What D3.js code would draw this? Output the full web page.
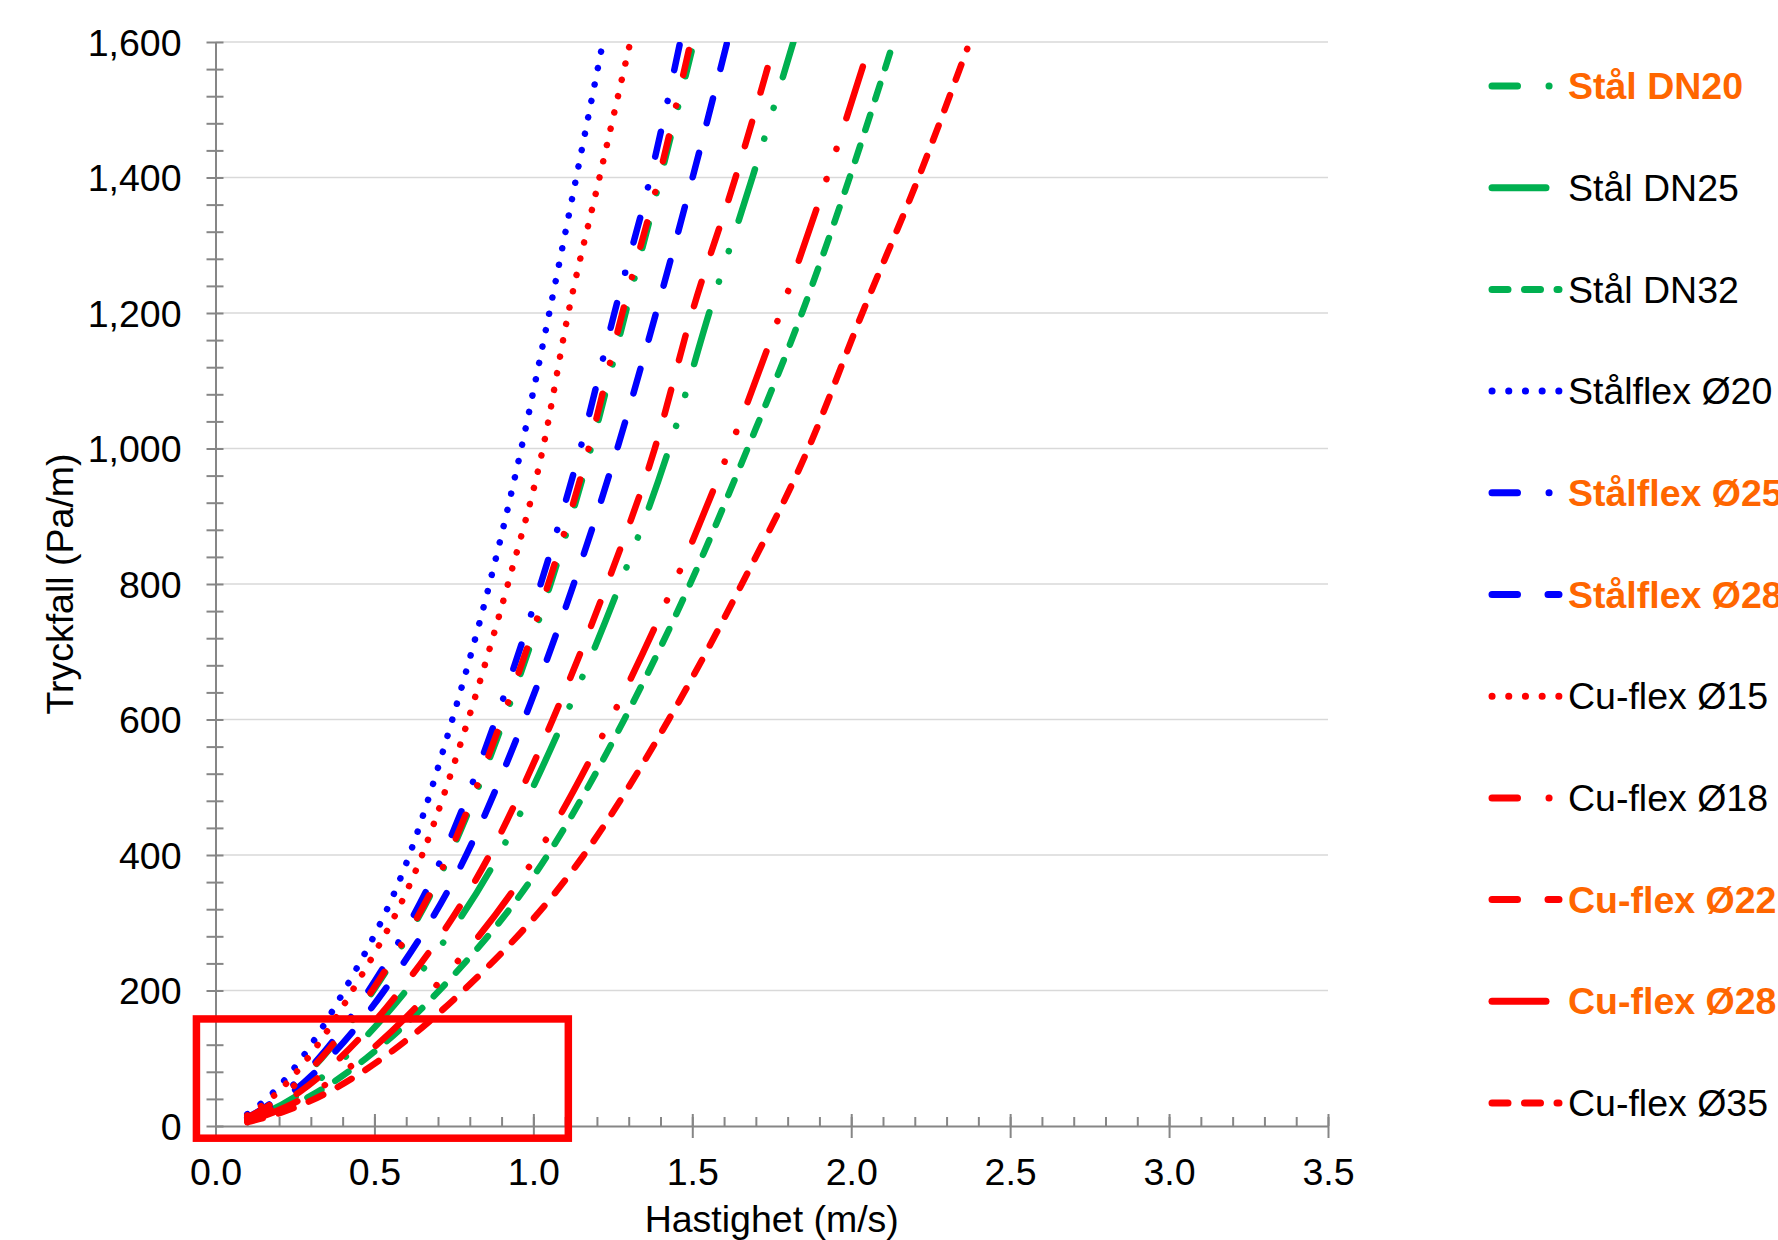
<!DOCTYPE html>
<html>
<head>
<meta charset="utf-8">
<script src="https://cdn.jsdelivr.net/npm/d3@7"></script>
<style>
  body { margin: 0; background: #fff; }
  text { font-family: "Liberation Sans", Arial, sans-serif; }
</style>
</head>
<body>
<svg id="chart" width="1778" height="1240"></svg>
<script>
// [hastighet m/s, tryckfall Pa/m]
var stalDN20     = [[0.10,12],[0.132,20],[0.226,50],[0.334,100],[0.497,200],[0.737,400],[0.908,600],[1.054,800],[1.181,1000],[1.29,1200],[1.40,1400],[1.505,1600]];
var stalDN25     = [[0.10,9],[0.16,20],[0.273,50],[0.404,100],[0.60,200],[0.891,400],[1.096,600],[1.273,800],[1.427,1000],[1.553,1200],[1.689,1400],[1.818,1600]];
var stalDN32     = [[0.10,6.6],[0.188,20],[0.32,50],[0.474,100],[0.704,200],[1.045,400],[1.286,600],[1.493,800],[1.674,1000],[1.845,1200],[1.995,1400],[2.133,1600]];
var stalflexO20  = [[0.10,17.5],[0.183,50],[0.271,100],[0.405,200],[0.61,400],[0.745,600],[0.862,800],[0.962,1000],[1.05,1200],[1.135,1400],[1.219,1600]];
var stalflexO25  = [[0.10,12.8],[0.129,20],[0.219,50],[0.325,100],[0.482,200],[0.716,400],[0.882,600],[1.023,800],[1.148,1000],[1.255,1200],[1.368,1400],[1.462,1600]];
var stalflexO28  = [[0.10,10.8],[0.142,20],[0.242,50],[0.357,100],[0.531,200],[0.789,400],[0.971,600],[1.127,800],[1.264,1000],[1.386,1200],[1.501,1400],[1.61,1600]];
var cuflexO15    = [[0.10,15.7],[0.115,20],[0.196,50],[0.29,100],[0.431,200],[0.65,400],[0.795,600],[0.92,800],[1.03,1000],[1.11,1200],[1.208,1400],[1.305,1600]];
var cuflexO18    = [[0.10,12.3],[0.132,20],[0.224,50],[0.332,100],[0.493,200],[0.733,400],[0.901,600],[1.047,800],[1.174,1000],[1.28,1200],[1.395,1400],[1.495,1600]];
var cuflexO22    = [[0.10,9.3],[0.155,20],[0.264,50],[0.391,100],[0.581,200],[0.862,400],[1.061,600],[1.232,800],[1.382,1000],[1.499,1200],[1.636,1400],[1.76,1600]];
var cuflexO28    = [[0.10,7.1],[0.181,20],[0.309,50],[0.458,100],[0.68,200],[1.01,400],[1.243,600],[1.443,800],[1.618,1000],[1.777,1200],[1.924,1400],[2.061,1600]];
var cuflexO35    = [[0.10,5.6],[0.208,20],[0.355,50],[0.525,100],[0.78,200],[1.159,400],[1.426,600],[1.656,800],[1.865,1000],[2.035,1200],[2.212,1400],[2.365,1590]];

var seriesNames = ["Stål DN20","Stål DN25","Stål DN32","Stålflex Ø20","Stålflex Ø25","Stålflex Ø28",
                   "Cu-flex Ø15","Cu-flex Ø18","Cu-flex Ø22","Cu-flex Ø28","Cu-flex Ø35"];
var seriesData  = [stalDN20, stalDN25, stalDN32, stalflexO20, stalflexO25, stalflexO28,
                   cuflexO15, cuflexO18, cuflexO22, cuflexO28, cuflexO35];
var highlighted = ["Stål DN20","Stålflex Ø25","Stålflex Ø28","Cu-flex Ø22","Cu-flex Ø28"];

var xTicks = [0, 0.5, 1.0, 1.5, 2.0, 2.5, 3.0, 3.5];
var yTicks = [0, 200, 400, 600, 800, 1000, 1200, 1400, 1600];
var zoomBox = {v0: -0.06, v1: 1.11, p0: -18, p1: 158};

// styles
var green = "#00B050", blue = "#0000FF", red = "#FF0000", orange = "#FF6600";
var dashStyle = {
  longDashDot:    "25.5,31.5,0.1,31.5",
  longDashDotDot: "54,32,0.1,32,0.1,32",
  dash:           "16,16.5",
  dot:            "0.1,16.6",
  longDash:       "25.5,30.5"
};
var seriesColor = [green, green, green, blue, blue, blue, red, red, red, red, red];
var seriesDash  = ["longDashDot","longDashDotDot","dash","dot","longDashDot","longDash",
                   "dot","longDashDot","longDash","longDashDotDot","dash"];

var svg = d3.select("#chart");
var x = d3.scaleLinear().domain([0, 3.5]).range([215.5, 1328]);
var y = d3.scaleLinear().domain([0, 1600]).range([1126, 42]);
var fontSize = 37.5;
var fontFam = '"Liberation Sans", Arial, sans-serif';

svg.append("defs").append("clipPath").attr("id", "plotclip")
  .append("rect")
  .attr("x", x(0)).attr("y", y(1600))
  .attr("width", x(3.5) - x(0)).attr("height", y(0) - y(1600));

// gridlines
svg.append("g").selectAll("line")
  .data(yTicks.filter(function(d){ return d > 0; }))
  .enter().append("line")
  .attr("x1", x(0)).attr("x2", x(3.5))
  .attr("y1", function(d){ return y(d); }).attr("y2", function(d){ return y(d); })
  .style("stroke", "#D9D9D9").style("stroke-width", "1.5px");

// y axis
var yMinor = svg.append("g").attr("transform", "translate(" + x(0) + ",0)")
  .call(d3.axisLeft(y).tickValues(d3.range(0, 1601, 40)).tickFormat("").tickSizeOuter(0));
yMinor.select(".domain").remove();
yMinor.selectAll(".tick line").attr("x1", 8).attr("x2", -9).style("stroke", "#868686").style("stroke-width", "2px");

var yAxis = svg.append("g").attr("transform", "translate(" + x(0) + ",0)")
  .call(d3.axisLeft(y).tickValues(yTicks).tickFormat(d3.format(",")).tickSize(0).tickPadding(34));
yAxis.select(".domain").style("stroke", "#868686").style("stroke-width", "2px");
yAxis.selectAll(".tick text").attr("font-size", fontSize).attr("fill", "#000")
  .style("font-family", fontFam).attr("dy", "0.35em");

// x axis
var xMinor = svg.append("g").attr("transform", "translate(0," + y(0) + ")")
  .call(d3.axisBottom(x).tickValues(d3.range(0, 35.5, 1).map(function(d){ return d / 10; })).tickFormat("").tickSizeOuter(0));
xMinor.select(".domain").remove();
xMinor.selectAll(".tick line").attr("y1", 0).attr("y2", -9).style("stroke", "#868686").style("stroke-width", "2px");

var xAxis = svg.append("g").attr("transform", "translate(0," + y(0) + ")")
  .call(d3.axisBottom(x).tickValues(xTicks).tickFormat(d3.format(".1f")).tickSizeOuter(0));
xAxis.select(".domain").style("stroke", "#868686").style("stroke-width", "2px");
xAxis.selectAll(".tick line").attr("y1", -12).attr("y2", 12).style("stroke", "#868686").style("stroke-width", "2px");
xAxis.selectAll(".tick text").attr("font-size", fontSize).attr("fill", "#000")
  .style("font-family", fontFam).attr("y", 59).attr("dy", 0);

// axis titles
svg.append("text")
  .attr("x", x(1.75)).attr("y", 1232)
  .attr("text-anchor", "middle").attr("font-size", fontSize)
  .text("Hastighet (m/s)");
svg.append("text")
  .attr("transform", "translate(73," + y(800) + ") rotate(-90)")
  .attr("text-anchor", "middle").attr("font-size", fontSize)
  .text("Tryckfall (Pa/m)");

// curves
var line = d3.line()
  .x(function(d){ return x(d[0]); })
  .y(function(d){ return y(d[1]); })
  .curve(d3.curveMonotoneX);

var curves = svg.append("g").attr("clip-path", "url(#plotclip)");
seriesData.forEach(function(data, i){
  curves.append("path")
    .datum(data)
    .attr("d", line)
    .style("fill", "none")
    .style("stroke", seriesColor[i])
    .style("stroke-width", "6.5px")
    .style("stroke-linecap", "round")
    .style("stroke-linejoin", "round")
    .style("stroke-dasharray", dashStyle[seriesDash[i]]);
});

// legend (long entries run past the right edge, as in the original)
var legend = svg.append("g");
seriesNames.forEach(function(name, i){
  var row = legend.append("g").attr("transform", "translate(0," + (86 + i * 101.7) + ")");
  row.append("path")
    .attr("d", "M1492,0H1559")
    .style("fill", "none")
    .style("stroke", seriesColor[i])
    .style("stroke-width", "7px")
    .style("stroke-linecap", "round")
    .style("stroke-dasharray", dashStyle[seriesDash[i]]);
  var hl = highlighted.includes(name);
  row.append("text")
    .attr("x", 1568).attr("dy", "0.35em")
    .attr("font-size", fontSize)
    .attr("font-weight", hl ? "bold" : "normal")
    .attr("fill", hl ? orange : "#000")
    .text(name);
});

// red frame around the low-velocity region
svg.append("rect")
  .attr("x", x(zoomBox.v0)).attr("y", y(zoomBox.p1))
  .attr("width", x(zoomBox.v1) - x(zoomBox.v0))
  .attr("height", y(zoomBox.p0) - y(zoomBox.p1))
  .style("fill", "none").style("stroke", red).style("stroke-width", "7.5px");
</script>
</body>
</html>
